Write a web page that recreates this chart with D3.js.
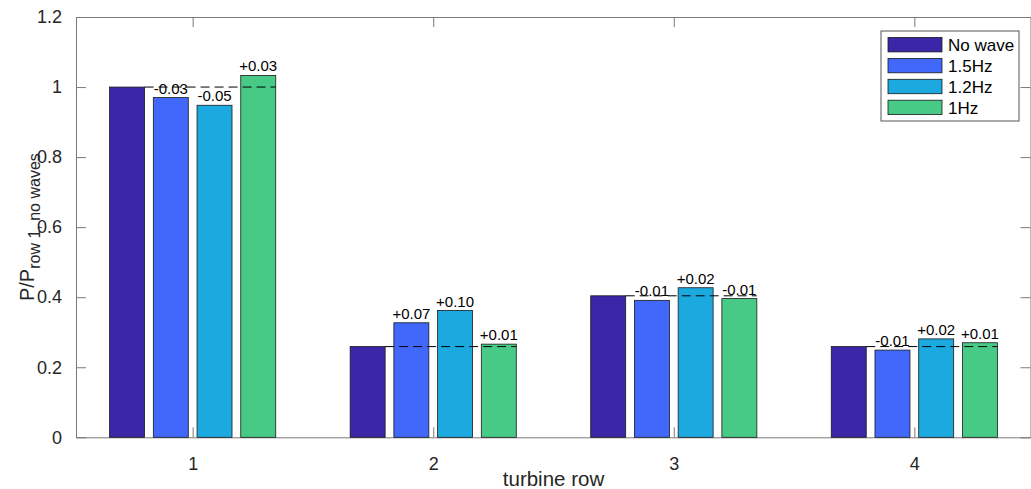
<!DOCTYPE html>
<html>
<head>
<meta charset="utf-8">
<script src="https://cdn.jsdelivr.net/npm/d3@7/dist/d3.min.js"></script>
<style>
    body { margin: 0; background: #fff; }
    svg { display: block; font-family: "Liberation Sans", Arial, Helvetica, sans-serif; }
    .axis path, .axis line { stroke: #7a7a7a; }
    .axis text { fill: #262626; font-size: 18px; }
</style>
</head>
<body>
<svg id="chart"></svg>
<script>
// Data
const rows = ['1', '2', '3', '4'];
const seriesNames = ['No wave', '1.5Hz', '1.2Hz', '1Hz'];
const noWave = [1.000, 0.259, 0.404, 0.259];
const wave15 = [0.970, 0.327, 0.391, 0.249];
const wave12 = [0.948, 0.362, 0.427, 0.281];
const wave10 = [1.033, 0.266, 0.396, 0.270];
const diff15 = ['-0.03', '+0.07', '-0.01', '-0.01'];
const diff12 = ['-0.05', '+0.10', '+0.02', '+0.02'];
const diff10 = ['+0.03', '+0.01', '-0.01', '+0.01'];
const yTicks = [0, 0.2, 0.4, 0.6, 0.8, 1, 1.2];
const seriesColors = ['#3c26a8', '#4267fb', '#1ca9df', '#47ca86'];

let config = {
    'svg': {width: 1031, height: 489},
    'plot': {left: 76, top: 17, right: 1031, bottom: 437.3}
};
let scales = {};

function translate(x, y) {
    return 'translate(' + x + ',' + y + ')';
}

let svg = d3.select('#chart')
    .attr('width', config.svg.width)
    .attr('height', config.svg.height);

// scales
scales.x = d3.scaleLinear()
    .domain([0.515, 4.485])
    .range([config.plot.left, config.plot.right]);
scales.y = d3.scaleLinear()
    .domain([0, 1.2])
    .range([config.plot.bottom, config.plot.top]);

// bars inside a group (MATLAB style: group width 0.727, bar width 0.8)
let slot = (scales.x(1.727) - scales.x(1)) / 4;
scales.series = d3.scaleBand()
    .domain(seriesNames)
    .range([-2 * slot, 2 * slot])
    .paddingInner(0.2)
    .paddingOuter(0.1);
scales.color = d3.scaleOrdinal(seriesNames, seriesColors);

// table for drawing
let values = [noWave, wave15, wave12, wave10];
let diffs = [null, diff15, diff12, diff10];
let bars = [];
rows.forEach((r, i) => {
    seriesNames.forEach((s, j) => {
        bars.push({row: +r, series: s, value: values[j][i], label: diffs[j] ? diffs[j][i] : null});
    });
});

let h = config.plot.bottom - config.plot.top;

// axes box, ticks pointing inward on all four sides
let yAxis = d3.axisLeft(scales.y).tickValues(yTicks).tickSizeInner(-10).tickSizeOuter(0).tickPadding(14)
    .tickFormat(d => String(+d.toFixed(1)));
svg.append('g').attr('class', 'axis').attr('transform', translate(config.plot.left, 0)).call(yAxis);
svg.append('g').attr('class', 'axis').attr('transform', translate(config.plot.right - 0.5, 0))
    .call(d3.axisRight(scales.y).tickValues(yTicks).tickSizeInner(-10).tickSizeOuter(0).tickFormat(''));

let xAxis = d3.axisBottom(scales.x).tickValues(rows.map(Number)).tickSizeInner(-10).tickSizeOuter(0).tickPadding(20)
    .tickFormat(d3.format('d'));
svg.append('g').attr('class', 'axis').attr('transform', translate(0, config.plot.bottom)).call(xAxis);
svg.append('g').attr('class', 'axis').attr('transform', translate(0, config.plot.top))
    .call(d3.axisTop(scales.x).tickValues(rows.map(Number)).tickSizeInner(-10).tickSizeOuter(0).tickFormat(''));

// bars
svg.append('g').selectAll('rect')
    .data(bars)
    .enter()
    .append('rect')
    .attr('x', d => scales.x(d.row) + scales.series(d.series))
    .attr('y', d => scales.y(d.value))
    .attr('width', scales.series.bandwidth())
    .attr('height', d => scales.y(0) - scales.y(d.value))
    .style('fill', d => scales.color(d.series))
    .style('stroke', '#1a1a1a')
    .style('stroke-width', 0.8);

// dashed reference line at no-wave level
svg.append('g').selectAll('line')
    .data(rows.map((r, i) => ({row: +r, value: noWave[i]})))
    .enter()
    .append('line')
    .attr('x1', d => scales.x(d.row) + scales.series('No wave') + scales.series.bandwidth())
    .attr('x2', d => scales.x(d.row) + scales.series('1Hz') + scales.series.bandwidth())
    .attr('y1', d => scales.y(d.value))
    .attr('y2', d => scales.y(d.value))
    .style('stroke', '#000')
    .style('stroke-width', 1)
    .style('stroke-dasharray', '9,5');

// difference labels
svg.append('g').selectAll('text')
    .data(bars.filter(d => d.label))
    .enter()
    .append('text')
    .attr('x', d => scales.x(d.row) + scales.series(d.series) + scales.series.bandwidth() / 2)
    .attr('y', d => scales.y(d.value) - 4)
    .attr('text-anchor', 'middle')
    .style('font-size', '15px')
    .style('fill', '#000')
    .text(d => d.label);

// axis labels
svg.append('text')
    .attr('x', (config.plot.left + config.plot.right) / 2)
    .attr('y', 486)
    .attr('text-anchor', 'middle')
    .style('font-size', '20.5px')
    .style('fill', '#262626')
    .text('turbine row');

let ylab = svg.append('text')
    .attr('transform', translate(34, config.plot.top + h / 2) + ' rotate(-90)')
    .attr('text-anchor', 'middle')
    .style('font-size', '20px')
    .style('fill', '#262626');
ylab.append('tspan').text('P/P');
ylab.append('tspan').attr('dy', 6).style('font-size', '16px').text('row 1, no waves');

// legend
let legend = svg.append('g').attr('transform', translate(881, 31));
legend.append('rect')
    .attr('width', 138).attr('height', 90)
    .style('fill', '#fff').style('stroke', '#555').style('stroke-width', 1);
let item = legend.selectAll('.item')
    .data(seriesNames)
    .enter()
    .append('g')
    .attr('class', 'item')
    .attr('transform', (d, i) => translate(7, 6.5 + i * 20.9));
item.append('rect')
    .attr('width', 54).attr('height', 14.4)
    .style('fill', d => scales.color(d))
    .style('stroke', '#1a1a1a').style('stroke-width', 0.8);
item.append('text')
    .attr('x', 60).attr('y', 13.5)
    .style('font-size', '17px')
    .style('fill', '#000')
    .text(d => d);
</script>
</body>
</html>
